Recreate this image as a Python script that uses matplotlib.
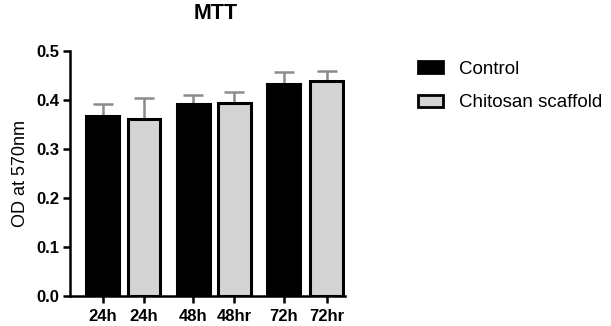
import matplotlib
matplotlib.use("Agg")
import matplotlib.pyplot as plt
from matplotlib.patches import Patch

plt.rcParams['font.family'] = ['Liberation Sans', 'DejaVu Sans']

# data
labels = ["24h", "24h", "48h", "48hr", "72h", "72hr"]
groups = ["Control", "Chitosan scaffold", "Control", "Chitosan scaffold", "Control", "Chitosan scaffold"]
means = [0.367, 0.360, 0.392, 0.394, 0.431, 0.437]
errs = [0.024, 0.043, 0.017, 0.021, 0.025, 0.021]
xpos = [0, 1, 2.2, 3.2, 4.4, 5.45]

colors = {"Control": "black", "Chitosan scaffold": "#d4d4d4"}

fig = plt.figure(figsize=(6.11, 3.26), dpi=100)
ax = fig.add_axes([0.1146, 0.092, 0.4504, 0.753])

for x, m, e, g in zip(xpos, means, errs, groups):
    ax.bar(x, m, width=0.8, color=colors[g], edgecolor="black", linewidth=2.2, zorder=3)
    ax.errorbar(x, m, yerr=[[0], [e]], fmt="none", ecolor="#8c8c8c", elinewidth=1.8,
                capsize=7, capthick=1.8, zorder=2)

ax.set_xlim(-0.8, 5.9)
ax.set_ylim(0, 0.5)
ax.set_yticks([0.0, 0.1, 0.2, 0.3, 0.4, 0.5])
ax.set_yticklabels(["0.0", "0.1", "0.2", "0.3", "0.4", "0.5"])
ax.set_xticks(xpos)
ax.set_xticklabels(labels)
for t in ax.get_xticklabels() + ax.get_yticklabels():
    t.set_fontweight("bold")
    t.set_fontsize(12)
ax.tick_params(axis="both", width=1.8, length=5, color="black", pad=3)
ax.tick_params(axis="x", pad=4)

ax.spines["top"].set_visible(False)
ax.spines["right"].set_visible(False)
ax.spines["left"].set_linewidth(1.8)
ax.spines["bottom"].set_linewidth(1.8)

ax.set_ylabel("OD at 570nm", fontsize=13, labelpad=5)
ax.set_title("MTT", fontsize=15.5, fontweight="bold", pad=23, x=0.53)

handles = [Patch(facecolor="black", edgecolor="black", linewidth=2),
           Patch(facecolor="#d4d4d4", edgecolor="black", linewidth=2)]
fig.legend(handles, ["Control", "Chitosan scaffold"], loc="upper left",
           bbox_to_anchor=(0.656, 0.866), frameon=False, fontsize=13.5,
           handlelength=1.33, handleheight=0.6, handletextpad=0.85, labelspacing=0.9)

fig.savefig("out.png", dpi=100)
